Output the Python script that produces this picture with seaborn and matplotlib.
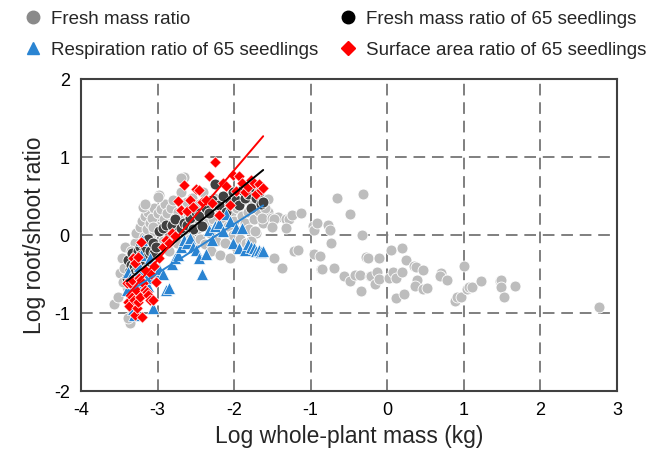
import numpy as np
import pandas as pd
import seaborn as sns
import matplotlib.pyplot as plt
from matplotlib.lines import Line2D

# Fresh mass ratio (all plants)
gray_x = [
    -3.57, -3.51, -3.49, -3.46, -3.40, -3.38, -3.36, -3.38, -3.45, -3.42,
    -3.33, -3.30, -3.28, -3.27, -3.25, -3.23, -3.22, -3.20, -3.18, -3.17,
    -3.15, -3.14, -3.12, -3.10, -3.09, -3.07, -3.05, -3.04, -3.02, -3.00,
    -2.98, -2.97, -2.95, -2.93, -2.92, -2.90, -2.88, -2.87, -2.85, -2.83,
    -2.82, -2.80, -2.78, -2.77, -2.75, -2.73, -2.72, -2.70, -2.68, -2.66,
    -2.65, -2.63, -2.62, -2.60, -2.58, -2.57, -2.55, -2.53, -2.52, -2.50,
    -2.48, -2.46, -2.44, -2.42, -2.40, -2.38, -2.36, -2.34, -2.32, -2.30,
    -2.28, -2.26, -2.24, -2.22, -2.20, -2.18, -2.16, -2.14, -2.12, -2.10,
    -2.08, -2.06, -2.04, -2.02, -2.00, -1.98, -1.96, -1.94, -1.92, -1.90,
    -1.88, -1.86, -1.84, -1.82, -1.80, -1.78, -1.76, -1.74, -1.72, -1.70,
    -1.68, -1.65, -1.60, -1.58, -1.62, -1.56,
    -3.32, -3.26, -3.19, -3.13, -3.35, -3.08, -3.21, -3.29, -3.44, -3.19,
    -2.99, -2.69, -3.24, -3.16, -3.06,
    -1.68, -1.60, -1.56, -1.78, -1.73, -1.64,
    -1.51, -1.43, -1.48, -1.32, -1.28, -1.24, -1.12, -1.51, -1.32,
    -0.97, -0.96, -0.92, -0.77, -0.75, -0.74, -0.65, -0.32, -0.48, -0.33,
    -1.48, -1.37, -1.22, -1.16, -0.96, -0.88, -0.87, -0.85, -0.69, -0.56,
    -0.48, -0.42, -0.35, -0.34, -0.28, -0.25, -0.11, -0.23, -0.21, -0.13,
    -0.16, -0.11, 0.05, 0.19, 0.24, 0.02, 0.07, 0.11, 0.19, 0.35,
    0.38, 0.47, 0.39, 0.36, 0.47, 0.52, 0.12, 0.22, 0.70, 0.69,
    0.78, 1.00, 0.88, 0.91, 0.96, 1.04, 1.07, 1.11, 1.22, 1.47,
    1.48, 1.48, 1.52, 1.67, 2.77,
]
gray_y = [
    -0.88, -0.79, -0.49, -0.30, -0.67, -0.40, -1.13, -1.06, -0.60, -0.15,
    -0.95, -0.10, 0.02, -0.45, -0.80, 0.10, -0.20, 0.18, -0.02, 0.25,
    -0.35, 0.08, 0.30, 0.15, -0.05, 0.22, 0.35, 0.05, -0.15, 0.28,
    0.51, 0.12, 0.33, -0.08, 0.20, 0.40, 0.05, 0.28, -0.20, 0.15,
    0.35, 0.45, 0.02, 0.22, -0.10, 0.30, 0.12, 0.55, 0.38, 0.20,
    0.75, 0.05, 0.42, 0.28, -0.05, 0.15, 0.48, 0.35, -0.15, 0.22,
    0.08, 0.40, -0.05, 0.25, 0.55, -0.12, 0.15, 0.32, 0.02, -0.20,
    0.20, 0.48, -0.08, 0.10, 0.35, -0.25, 0.05, 0.22, -0.10, 0.40,
    0.12, -0.30, 0.28, 0.00, 0.18, -0.15, 0.35, 0.05, -0.05, 0.25,
    0.45, 0.15, -0.10, 0.30, 0.08, -0.08, 0.38, 0.20, 0.02, 0.50,
    0.31, 0.35, 0.35, 0.46, 0.15, 0.30,
    -0.70, -0.55, -0.40, -0.25, -0.20, -0.45, -0.65, -0.85, -0.42, 0.36,
    0.49, 0.73, -0.30, 0.40, 0.10,
    0.31, 0.35, 0.46, -0.08, 0.05, 0.22,
    0.22, 0.23, 0.20, 0.21, 0.21, 0.26, 0.28, 0.10, 0.09,
    0.11, 0.06, 0.16, 0.13, 0.065, -0.10, 0.47, 0.52, 0.27, 0.00,
    -0.30, -0.42, -0.20, -0.19, -0.24, -0.27, -0.43, -0.43, -0.42, -0.52,
    -0.59, -0.51, -0.51, -0.72, -0.28, -0.29, -0.30, -0.52, -0.52, -0.48,
    -0.63, -0.56, -0.19, -0.16, -0.32, -0.55, -0.48, -0.55, -0.48, -0.40,
    -0.41, -0.45, -0.57, -0.65, -0.69, -0.68, -0.81, -0.76, -0.49, -0.53,
    -0.57, -0.40, -0.84, -0.80, -0.80, -0.69, -0.66, -0.66, -0.59, -0.59,
    -0.57, -0.67, -0.79, -0.65, -0.92,
]

# The 65 seedlings: whole-plant mass and three root/shoot ratios
seedling_mass = [
    -3.40, -3.38, -3.37, -3.36, -3.35, -3.34, -3.33, -3.32, -3.31, -3.30,
    -3.29, -3.28, -3.27, -3.26, -3.25, -3.24, -3.23, -3.22, -3.21, -3.20,
    -3.19, -3.17, -3.16, -3.14, -3.12, -3.10, -3.08, -3.06, -3.04, -3.02,
    -2.98, -2.93, -2.89, -2.85, -2.81, -2.77, -2.73, -2.70, -2.66, -2.62,
    -2.58, -2.54, -2.50, -2.46, -2.42, -2.37, -2.33, -2.29, -2.25, -2.20,
    -2.15, -2.11, -2.06, -2.02, -1.98, -1.94, -1.90, -1.86, -1.82, -1.78,
    -1.74, -1.71, -1.68, -1.65, -1.62,
]
fresh_65 = [
    -0.55, -0.32, -0.60, -0.45, -0.38, -0.23, -0.50, -0.62, -0.40, -0.28,
    -0.48, -0.35, -0.55, -0.20, -0.42, -0.30, -0.15, -0.38, -0.25, -0.45,
    -0.11, -0.33, -0.19, -0.28, -0.05, -0.20, -0.35, -0.10, -0.23, -0.15,
    0.05, 0.09, 0.13, -0.02, 0.13, 0.20, 0.04, 0.09, 0.16, 0.13,
    0.22, 0.08, 0.30, 0.25, 0.12, 0.35, 0.28, 0.45, 0.65, 0.38,
    0.50, 0.30, 0.42, 0.55, 0.45, 0.38, 0.58, 0.47, 0.52, 0.35,
    0.62, 0.48, 0.55, 0.40, 0.42,
]
resp_65 = [
    -0.70, -0.47, -0.79, -0.55, -0.86, -0.60, -0.75, -0.95, -1.03, -0.65,
    -0.80, -0.60, -0.68, -0.50, -0.72, -0.40, -0.55, -0.62, -0.26, -0.06,
    -0.45, -0.58, -0.70, -0.52, -0.65, -0.30, -0.55, -0.94, -0.38, -0.48,
    -0.43, -0.50, -0.71, -0.68, -0.37, -0.30, -0.25, -0.15, -0.06, -0.10,
    -0.04, -0.15, -0.19, -0.30, -0.50, -0.24, 0.07, -0.06, 0.11, 0.15,
    0.05, 0.27, 0.18, -0.10, 0.09, -0.17, 0.09, -0.19, -0.12, -0.15,
    -0.17, -0.20, -0.19, -0.22, -0.21,
]
surface_65 = [
    -0.62, -0.86, -0.91, -0.62, -0.77, -0.58, -0.79, -0.30, -0.83, -1.03,
    -0.36, -0.70, -0.93, -0.28, -0.86, -0.55, -0.79, -0.09, -0.58, -1.05,
    -0.62, -0.70, -0.45, -0.73, -0.77, -0.83, -0.50, -0.83, -0.40, -0.60,
    -0.30, -0.15, -0.06, -0.10, 0.02, -0.01, 0.44, 0.32, 0.64, 0.31,
    0.45, 0.36, 0.59, 0.58, 0.43, 0.45, 0.76, 0.41, 0.94, 0.26,
    0.67, 0.63, 0.38, 0.77, 0.57, 0.76, 0.67, 0.55, 0.62, 0.70,
    0.67, 0.53, 0.65, 0.58, 0.60,
]

# fitted lines (slope, intercept) over the seedling mass range
fit_slopes = [0.80, 0.63, 1.15]
fit_intercepts = [2.13, 1.40, 3.13]

GRAY = '#bdbdbd'
DARK = '#404040'
BLUE = '#2a84d2'
RED = '#ff0000'

sns.set_style('white')
plt.rcParams['font.family'] = ['Liberation Sans', 'DejaVu Sans']
plt.rcParams['axes.unicode_minus'] = False

fig = plt.figure(figsize=(6.72, 4.49), dpi=100)
ax = fig.add_axes([0.1205, 0.129, 0.7975, 0.695])

gray_df = pd.DataFrame({'mass': gray_x, 'ratio': gray_y})
seed_df = pd.DataFrame({'mass': seedling_mass, 'fresh': fresh_65,
                        'resp': resp_65, 'surface': surface_65})

sns.scatterplot(data=gray_df, x='mass', y='ratio', color=GRAY, s=62,
                edgecolor='white', linewidth=0.6, ax=ax, zorder=3, legend=False)
sns.scatterplot(data=seed_df, x='mass', y='fresh', color=DARK, s=62,
                edgecolor='white', linewidth=0.6, ax=ax, zorder=4, legend=False)
sns.scatterplot(data=seed_df, x='mass', y='resp', color=BLUE, marker='^', s=75,
                edgecolor='white', linewidth=0.5, ax=ax, zorder=5, legend=False)
sns.scatterplot(data=seed_df, x='mass', y='surface', color=RED, marker='D', s=34,
                edgecolor='white', linewidth=0.5, ax=ax, zorder=6, legend=False)

xs = np.array([min(seedling_mass), max(seedling_mass)])
for m, b, c in zip(fit_slopes, fit_intercepts, ['black', BLUE, RED]):
    ax.plot(xs, m * xs + b, color=c, lw=1.4, zorder=7)

ax.set_xlim(-4, 3)
ax.set_ylim(-2, 2)
ax.set_xticks(range(-4, 4))
ax.set_yticks(range(-2, 3))
ax.grid(True, color='#7f7f7f', linestyle=(0, (6, 3.5)), linewidth=1.4)
ax.set_axisbelow(True)
ax.tick_params(length=0, labelsize=13, pad=8, colors='black')
for sp in ax.spines.values():
    sp.set_color('#404040')
    sp.set_linewidth(1.5)

ax.set_xlabel('Log whole-plant mass (kg)', fontsize=16.5, labelpad=4)
ax.set_ylabel('Log root/shoot ratio', fontsize=16.5, labelpad=6)

handles = [
    Line2D([], [], ls='none', marker='o', color='#8a8a8a', markersize=9),
    Line2D([], [], ls='none', marker='^', color=BLUE, markersize=9),
    Line2D([], [], ls='none', marker='o', color='black', markersize=9),
    Line2D([], [], ls='none', marker='D', color=RED, markersize=7),
]
labels = ['Fresh mass ratio', 'Respiration ratio of 65 seedlings',
          'Fresh mass ratio of 65 seedlings', 'Surface area ratio of 65 seedlings']
fig.legend(handles, labels, ncol=2, loc='upper left', frameon=False,
           bbox_to_anchor=(0.03, 0.985), fontsize=13.5, handlelength=1.0,
           handletextpad=0.45, columnspacing=1.1, labelspacing=0.75,
           borderpad=0.2, borderaxespad=0)

fig.savefig('out.png', dpi=100)
